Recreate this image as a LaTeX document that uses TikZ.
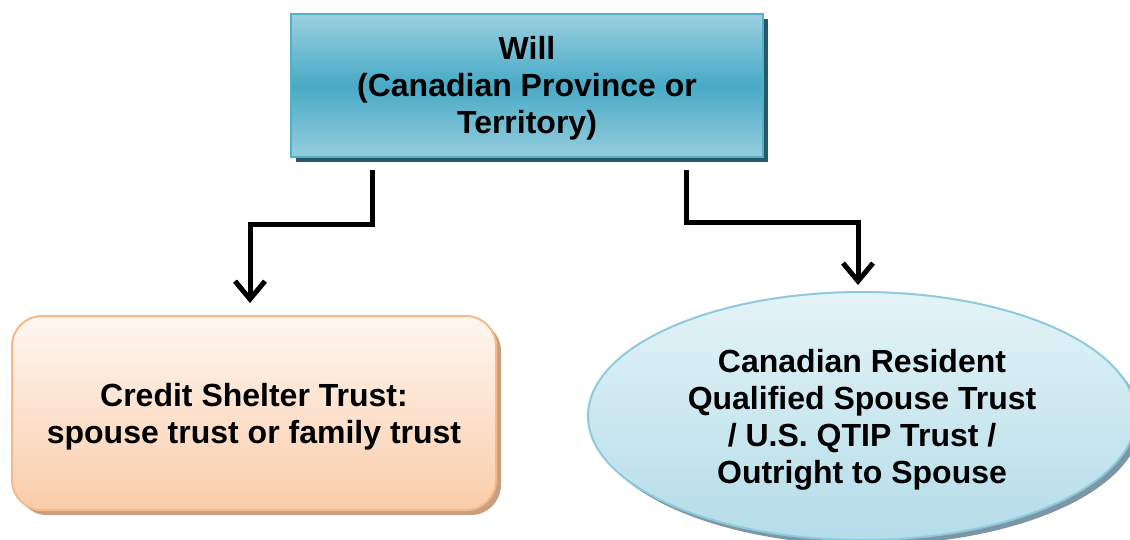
\documentclass[tikz,border=0pt]{standalone}
\usepackage{fontspec}
\setmainfont{Liberation Sans}
\usetikzlibrary{shadows,arrows.meta,shapes.geometric}
\definecolor{willtop}{RGB}{155,208,224}
\definecolor{willmid}{RGB}{72,170,198}
\definecolor{willbot}{RGB}{150,205,222}
\definecolor{willline}{RGB}{80,176,202}
\definecolor{willshadow}{RGB}{40,88,102}
\definecolor{csttop}{RGB}{255,247,240}
\definecolor{cstbot}{RGB}{249,204,170}
\definecolor{cstline}{RGB}{245,185,140}
\definecolor{cstshadow}{RGB}{200,160,128}
\definecolor{qsttop}{RGB}{228,243,248}
\definecolor{qstbot}{RGB}{180,220,232}
\definecolor{qstline}{RGB}{140,202,220}
\definecolor{qstshadow}{RGB}{125,150,165}
\tikzset{
  txt/.style={font=\bfseries\fontsize{32}{37}\selectfont, align=center, text=black},
  willbox/.style={draw=willline, line width=2pt, minimum width=472pt, minimum height=143pt,
    top color=willtop, bottom color=willbot, middle color=willmid,
    drop shadow={shadow xshift=5pt, shadow yshift=-5pt, fill=willshadow, opacity=1}},
  cstbox/.style={draw=cstline, line width=2pt, rounded corners=30pt, minimum width=484pt, minimum height=194pt,
    top color=csttop, bottom color=cstbot,
    drop shadow={shadow xshift=5pt, shadow yshift=-5pt, fill=cstshadow, opacity=1}},
  qstbox/.style={ellipse, draw=qstline, line width=2pt, minimum width=548pt, minimum height=248pt, inner sep=0pt,
    top color=qsttop, bottom color=qstbot,
    drop shadow={shadow xshift=5pt, shadow yshift=-5pt, fill=qstshadow, opacity=1}},
  arr/.style={line width=5pt, line join=miter, -{Straight Barb[length=18pt,width=30pt]}}
}
\begin{document}
\begin{tikzpicture}[x=1pt,y=-1pt]
\useasboundingbox (0,0) rectangle (1130,539);
\node[willbox, label={[txt,yshift=-3pt]center:Will\\(Canadian Province or\\Territory)}] (will) at (527,85.5) {};
\node[cstbox, label={[txt,yshift=-3.5pt]center:Credit Shelter Trust:\\spouse trust or family trust}] (cst) at (254,413) {};
\node[qstbox, label={[txt,yshift=-3.5pt]center:Canadian Resident\\Qualified Spouse Trust\\/ U.S. QTIP Trust /\\Outright to Spouse}] (qst) at (862,416) {};
\coordinate (a1) at (372,170);
\coordinate (b1) at (250,303);
\coordinate (a2) at (686,170);
\coordinate (b2) at (858,285);
\draw[arr] (a1) -- ++(0,54) -| (b1);
\draw[arr] (a2) -- ++(0,52) -| (b2);
\end{tikzpicture}
\end{document}
